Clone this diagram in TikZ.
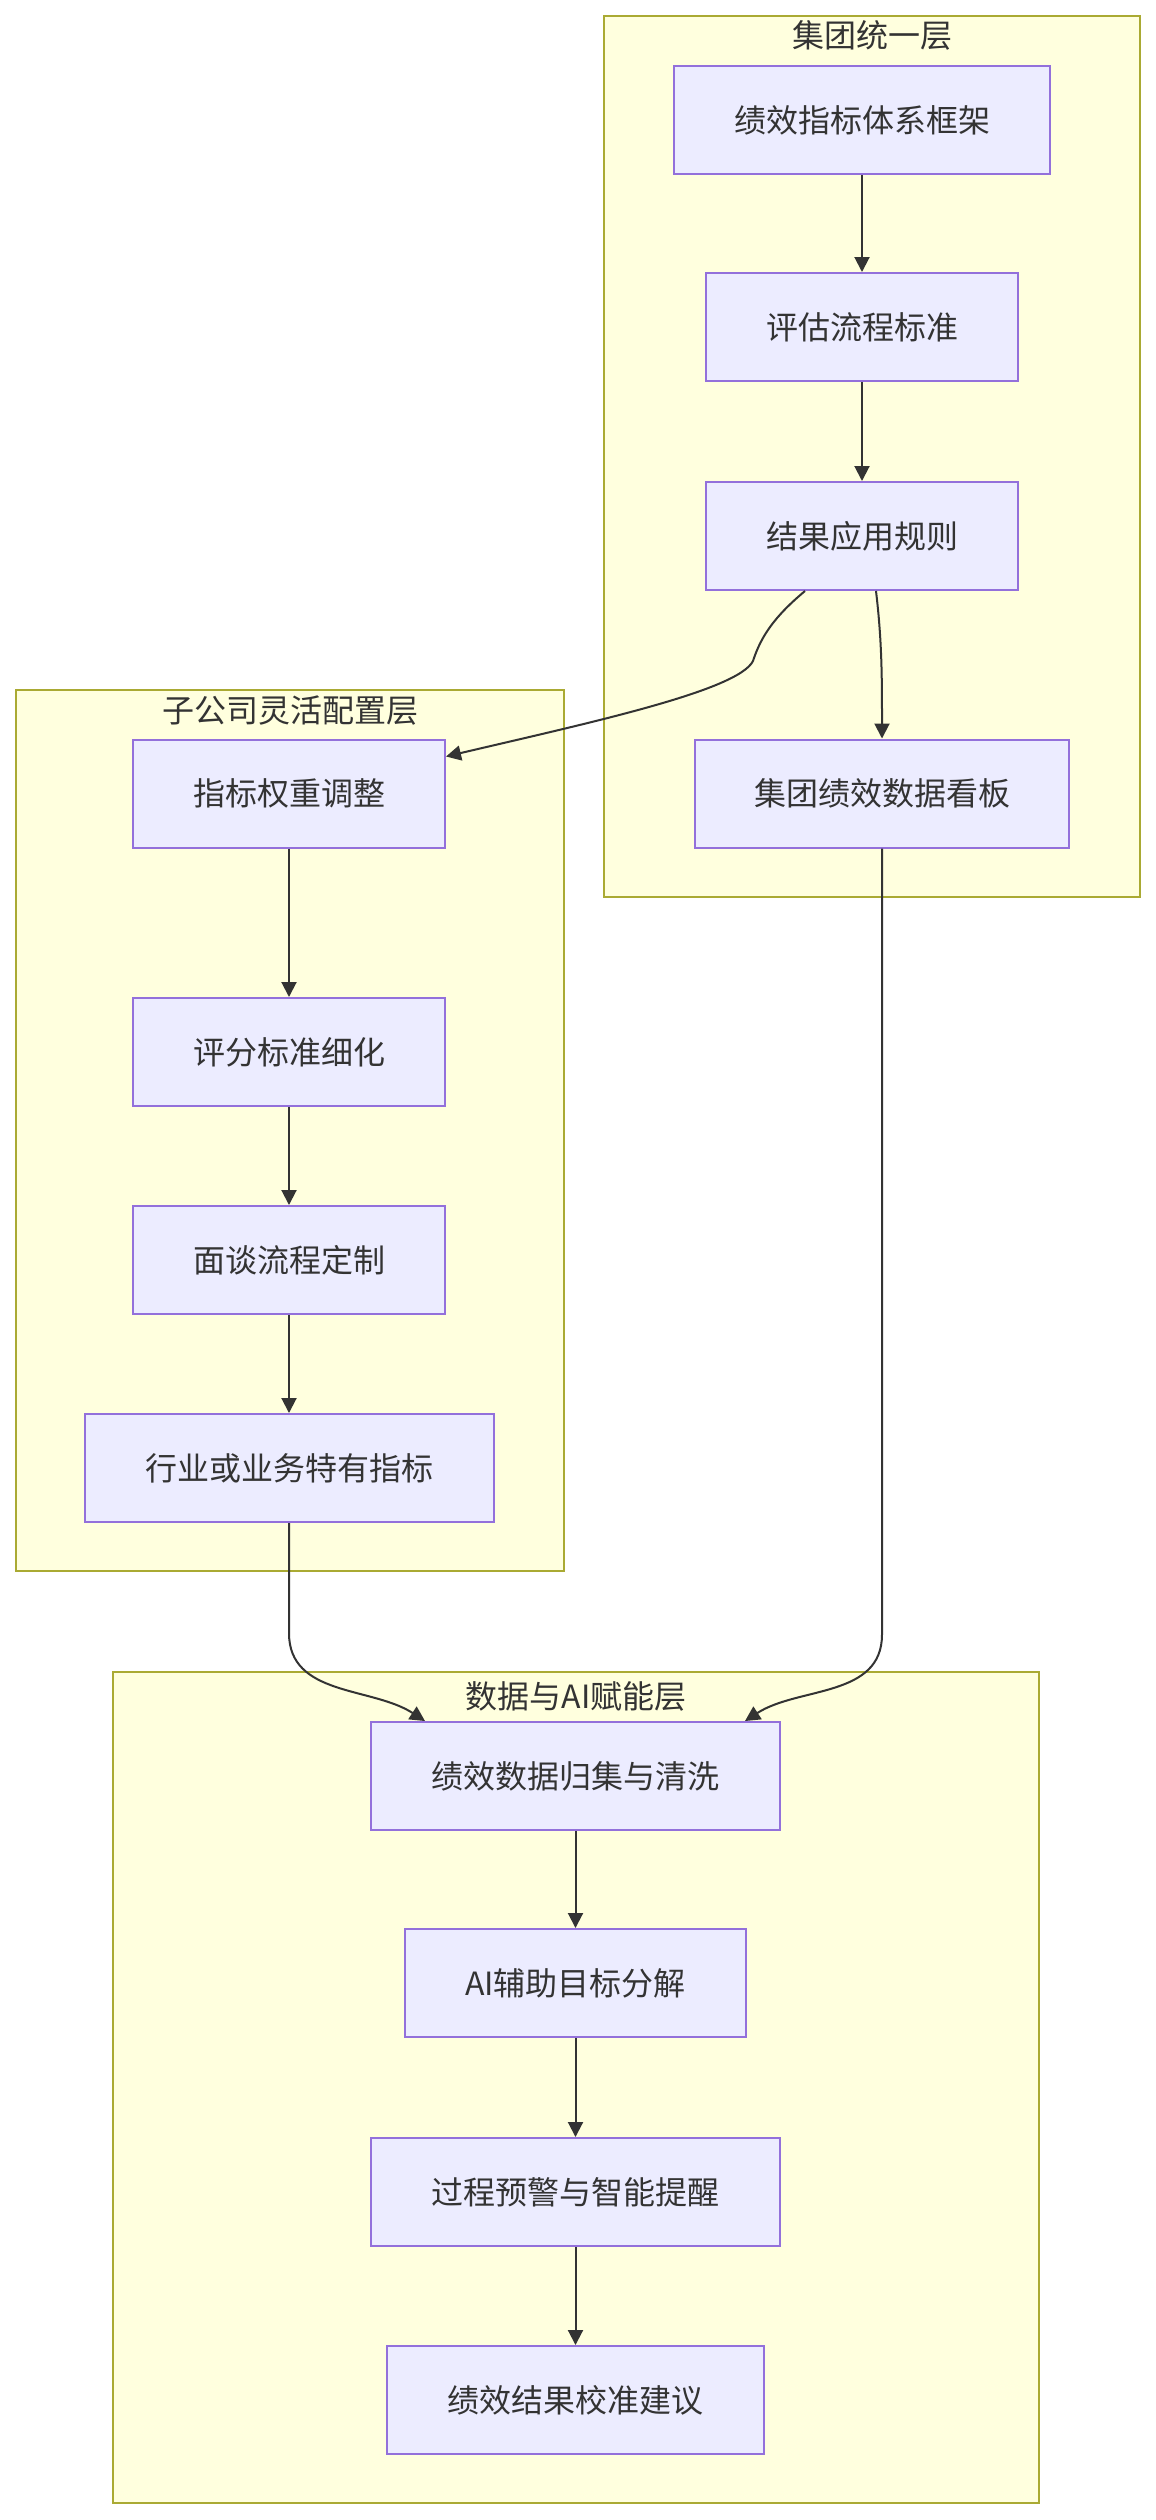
\documentclass[tikz,border=0pt]{standalone}
\usepackage{fontspec}
\newfontfamily\cjkfont{Noto Sans CJK SC}
\definecolor{nodefill}{HTML}{ECECFF}
\definecolor{nodeline}{HTML}{9370DB}
\definecolor{groupfill}{HTML}{FFFFDE}
\definecolor{groupline}{HTML}{AAAA33}
\definecolor{linkgray}{HTML}{333333}
\usetikzlibrary{arrows.meta,positioning,calc}

\begin{document}
\begin{tikzpicture}[x=1pt,y=1pt,
  box/.style={draw=nodeline,fill=nodefill,line width=2pt,minimum height=108pt,inner sep=0pt,
    font=\cjkfont\fontsize{32}{38}\selectfont,text=linkgray},
  group/.style={draw=groupline,fill=groupfill,line width=2pt,inner sep=0pt},
  grouptitle/.style={font=\cjkfont\fontsize{32}{38}\selectfont,text=linkgray,inner sep=0pt},
  link/.style={draw=linkgray,line width=2pt,-{Triangle[length=15pt,width=15pt]}}]
  \useasboundingbox (0,0) rectangle (1156,-2520);
  % grupos
  \node[group,minimum width=536pt,minimum height=881pt] (gtop) at (872,-456.5) {};
  \node[group,minimum width=548pt,minimum height=881pt] (gsub) at (290,-1130.5) {};
  \node[group,minimum width=926pt,minimum height=831pt] (gdata) at (576,-2087.5) {};
  \node[grouptitle] (ttop) at (872,-35) {集团统一层};
  \node[grouptitle] (tsub) at (290,-711) {子公司灵活配置层};
  \node[grouptitle] (tdata) at (576,-1696) {数据与AI赋能层};
  % group nodes
  \node[box,minimum width=376pt] (gf) at (862,-120) {绩效指标体系框架};
  \node[box,minimum width=312pt] (gp) at (862,-327) {评估流程标准};
  \node[box,minimum width=312pt] (gr) at (862,-536) {结果应用规则};
  \node[box,minimum width=374pt] (gd) at (882,-793.5) {集团绩效数据看板};
  % subsidiary nodes
  \node[box,minimum width=312pt] (sw) at (289,-793.5) {指标权重调整};
  \node[box,minimum width=312pt] (ss) at (289,-1052) {评分标准细化};
  \node[box,minimum width=312pt] (si) at (289,-1260) {面谈流程定制};
  \node[box,minimum width=409pt] (sk) at (289,-1468) {行业或业务特有指标};
  % data nodes
  \node[box,minimum width=409pt] (dc) at (575.5,-1776) {绩效数据归集与清洗};
  \node[box,minimum width=341pt] (da) at (575.5,-1983) {AI辅助目标分解};
  \node[box,minimum width=409pt] (dw) at (575.5,-2192) {过程预警与智能提醒};
  \node[box,minimum width=377pt] (dr) at (575.5,-2400) {绩效结果校准建议};
  % conexoes
  \foreach \s/\t in {gf/gp,gp/gr,sw/ss,ss/si,si/sk,dc/da,da/dw,dw/dr}
    \draw[link] (\s) -- (\t);
  \draw[link] ([xshift=-57pt]gr.south) .. controls +(-30,-25) and +(8,25) .. ($(gr.south)+(-109,-70)$)
    .. controls +(-15,-30) and +(140,33) .. ([yshift=-18pt]sw.north east);
  \draw[link] ([xshift=14pt]gr.south) .. controls +(6,-50) and +(0,60) .. (gd.north);
  \draw[link] (sk.south) -- ++(0,-110) to[out=-90,in=147] ([xshift=55pt]dc.north west);
  \draw[link] (gd.south) -- ++(0,-786) to[out=-90,in=33] ([xshift=-36pt]dc.north east);
\end{tikzpicture}
\end{document}
